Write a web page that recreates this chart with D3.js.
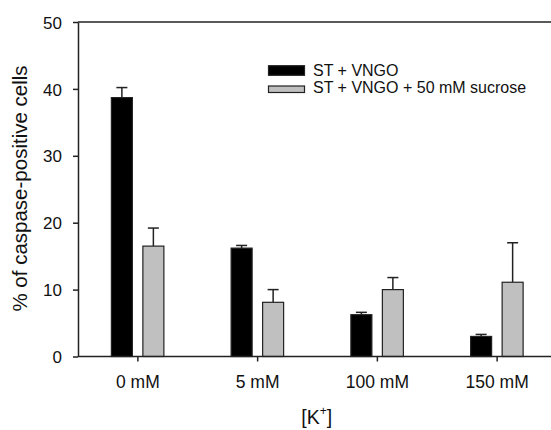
<!DOCTYPE html>
<html><head><meta charset="utf-8">
<script src="https://cdn.jsdelivr.net/npm/d3@7/dist/d3.min.js"></script>
<style>
body{margin:0;background:#fff;}
svg{display:block;font-family:"Liberation Sans",Arial,sans-serif;}
</style></head>
<body><svg id="c" width="551" height="430"></svg>
<script>
const categories = ["0 mM","5 mM","100 mM","150 mM"];
const seriesNames = ["ST + VNGO","ST + VNGO + 50 mM sucrose"];
const stValues = [38.7, 16.2, 6.25, 3.0];
const stErrors = [1.5, 0.4, 0.35, 0.3];
const sucValues = [16.5, 8.1, 10.0, 11.1];
const sucErrors = [2.7, 1.9, 1.8, 5.9];
const yTicks = [0,10,20,30,40,50];
const colors = ["#000000","#c0c0c0"];

const svg = d3.select("#c");
const L = 78, R = 557, T = 22, B = 356.5;
const x = d3.scaleBand().domain(categories).range([L,R]).paddingInner(0).paddingOuter(0);
const y = d3.scaleLinear().domain([0,50]).range([B,T]);

const series = [
  {name:seriesNames[0], vals:stValues, errs:stErrors, color:colors[0], off:-26.5},
  {name:seriesNames[1], vals:sucValues, errs:sucErrors, color:colors[1], off:5}
];
const bw = 21;

series.forEach(s=>{
  const g = svg.append("g");
  categories.forEach((c,i)=>{
    const cx = x(c)+x.bandwidth()/2;
    const bx = cx + s.off;
    const ey = y(s.vals[i]+s.errs[i]);
    g.append("line").attr("x1",bx+bw/2).attr("x2",bx+bw/2)
      .attr("y1",y(s.vals[i])).attr("y2",ey).attr("stroke","#222").attr("stroke-width",1.5);
    g.append("line").attr("x1",bx+bw/2-5.5).attr("x2",bx+bw/2+5.5)
      .attr("y1",ey).attr("y2",ey).attr("stroke","#222").attr("stroke-width",1.5);
    g.append("rect").attr("x",bx).attr("y",y(s.vals[i]))
      .attr("width",bw).attr("height",B-y(s.vals[i]))
      .attr("fill",s.color).attr("stroke","#222").attr("stroke-width",1.2);
  });
});

// top frame line
svg.append("line").attr("x1",L).attr("x2",551).attr("y1",T).attr("y2",T)
  .attr("stroke","#222").attr("stroke-width",1.5);

// y axis
const ya = svg.append("g").attr("transform",`translate(${L},0)`)
  .call(d3.axisLeft(y).tickValues(yTicks).tickSize(5).tickPadding(11).tickSizeOuter(0));
ya.select(".domain").attr("stroke","#222").attr("stroke-width",1.5);
ya.selectAll(".tick line").attr("stroke","#222").attr("stroke-width",1.5);
ya.selectAll("text").attr("font-size",17).attr("fill","#111").attr("font-family","Liberation Sans, Arial, sans-serif").attr("dy","0.36em");

// x axis
const xa = svg.append("g").attr("transform",`translate(0,${B})`)
  .call(d3.axisBottom(x).tickSize(5).tickSizeOuter(0));
xa.select(".domain").attr("d",`M${L},0H551`).attr("stroke","#222").attr("stroke-width",1.5);
xa.selectAll(".tick line").attr("stroke","#222").attr("stroke-width",1.5);
xa.selectAll("text").attr("font-size",17.5).attr("fill","#111").attr("y",31.5).attr("dy",0)
  .attr("font-family","Liberation Sans, Arial, sans-serif");

// axis titles
svg.append("text").attr("transform",`translate(27,188.5) rotate(-90)`)
  .attr("text-anchor","middle").attr("font-size",20.5).attr("fill","#111")
  .text("% of caspase-positive cells");
const xt = svg.append("text").attr("x",316.7).attr("y",424).attr("text-anchor","middle")
  .attr("font-size",19.5).attr("fill","#111");
xt.append("tspan").text("[K");
xt.append("tspan").attr("dy",-9).attr("font-size",12).text("+");
xt.append("tspan").attr("dy",9).text("]");

// legend
const legendRects = [{y:65.7,h:9.6},{y:86,h:6.5}];
const lg = svg.append("g");
series.forEach((s,i)=>{
  lg.append("rect").attr("x",268.5).attr("y",legendRects[i].y).attr("width",36).attr("height",legendRects[i].h)
    .attr("fill",s.color).attr("stroke","#222").attr("stroke-width",1.2);
  lg.append("text").attr("x",313).attr("y",76.3+i*17).attr("font-size",16).attr("fill","#111").text(s.name);
});
</script></body></html>
